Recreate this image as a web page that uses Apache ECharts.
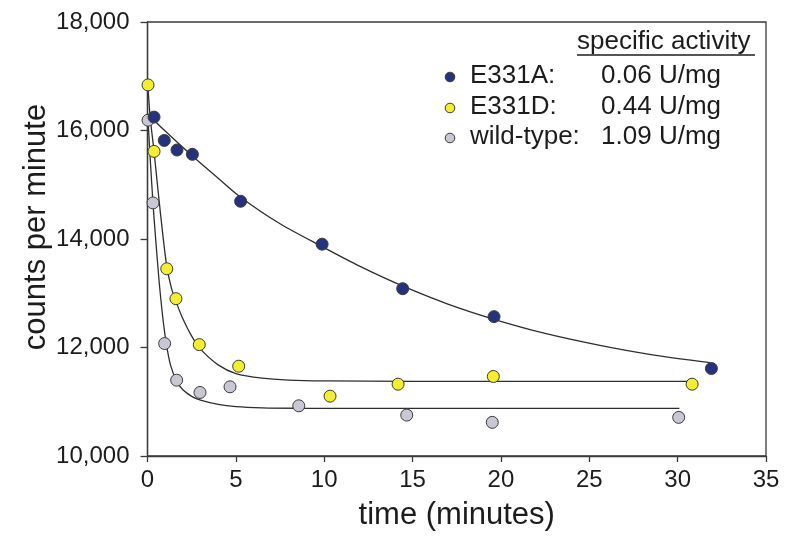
<!DOCTYPE html>
<html>
<head>
<meta charset="utf-8">
<script src="https://cdn.jsdelivr.net/npm/echarts@6/dist/echarts.min.js"></script>
<style>
  html, body { margin: 0; padding: 0; background: #fff; }
  #chart { width: 785px; height: 536px; }
</style>
</head>
<body>
<div id="chart"></div>
<script>
// Measured counts (time in minutes, counts per minute)
const e331aTime   = [0.37, 0.95, 1.67, 2.54, 5.27, 9.88, 14.44, 19.61, 31.91];
const e331aCounts = [16247, 15817, 15640, 15560, 14695, 13905, 13084, 12569, 11612];

const e331dTime   = [0.03, 0.37, 1.09, 1.61, 2.93, 5.16, 10.33, 14.18, 19.57, 30.82];
const e331dCounts = [16840, 15615, 13451, 12900, 12053, 11655, 11103, 11324, 11466, 11324];

const wtTime   = [0.03, 0.31, 0.97, 1.65, 2.97, 4.67, 8.56, 14.67, 19.51, 30.06];
const wtCounts = [16190, 14665, 12073, 11398, 11171, 11275, 10925, 10754, 10620, 10712];

// Fitted decay curves, sampled along each trace
const e331aFitTime   = [0.05, 0.37, 1.0, 2.54, 4.0, 5.27, 7.5, 9.88, 12, 14.46, 17, 19.61, 22.5, 25.6, 28.5, 31.83];
const e331aFitCounts = [16300, 16190, 15990, 15530, 15120, 14770, 14280, 13860, 13500, 13130, 12800, 12520, 12260, 12040, 11870, 11720];

const e331dFitTime   = [0.02, 0.15, 0.37, 0.6, 0.86, 1.09, 1.35, 1.61, 2.0, 2.5, 3.0, 4.0, 5.0, 6.5, 8, 10, 15, 30.8];
const e331dFitCounts = [16840, 16250, 15615, 14880, 14100, 13500, 13100, 12850, 12530, 12210, 11970, 11680, 11520, 11435, 11400, 11385, 11376, 11374];

const wtFitTime   = [0.03, 0.15, 0.31, 0.45, 0.65, 0.85, 1.05, 1.3, 1.65, 2.0, 2.5, 3.0, 4.0, 5.0, 6.5, 8.5, 12, 30.1];
const wtFitCounts = [16190, 15500, 14665, 14050, 13250, 12600, 12100, 11680, 11380, 11220, 11100, 11030, 10950, 10910, 10888, 10880, 10877, 10877];

// Axis ticks
const timeTicks  = [0, 5, 10, 15, 20, 25, 30, 35];
const countTicks = [10000, 12000, 14000, 16000, 18000];

// Legend rows: name, specific activity
const legendNames      = ['E331A:', 'E331D:', 'wild-type:'];
const legendActivities = ['0.06 U/mg', '0.44 U/mg', '1.09 U/mg'];

const pairs = (xs, ys) => xs.map((x, i) => [x, ys[i]]);

const FONT = '"Liberation Sans", Arial, Helvetica, sans-serif';
const TEXT = '#1c1c1c';
const AXIS = '#3a3a3a';
const colors = ['#27327f', '#f3ee2e', '#c7c8d3'];
const markerBorder = '#3b3b3b';

function fitLine(xs, ys) {
  return {
    type: 'line',
    data: pairs(xs, ys),
    smooth: 0.3,
    showSymbol: false,
    silent: true,
    z: 2,
    lineStyle: { color: '#2e2e2e', width: 1.3 }
  };
}
function points(xs, ys, color) {
  return {
    type: 'scatter',
    data: pairs(xs, ys),
    symbol: 'circle',
    symbolSize: 12,
    z: 3,
    itemStyle: { color: color, opacity: 1, borderColor: markerBorder, borderWidth: 1 }
  };
}

const chart = echarts.init(document.getElementById('chart'), null, { renderer: 'canvas' });

const legendGraphics = [];
const rowY = [76, 107, 137];
legendGraphics.push({
  type: 'text', left: 577, top: 29,
  style: { text: 'specific activity', font: '26px ' + FONT, fill: TEXT }
});
legendGraphics.push({
  type: 'line', shape: { x1: 577, y1: 55, x2: 755, y2: 55 },
  style: { stroke: TEXT, lineWidth: 1.3 }
});
legendNames.forEach((name, i) => {
  legendGraphics.push({
    type: 'circle', shape: { cx: 450, cy: rowY[i] + 1, r: 4.8 },
    style: { fill: colors[i], stroke: markerBorder, lineWidth: 1 }
  });
  legendGraphics.push({
    type: 'text', x: 470, y: rowY[i],
    style: { text: name, font: '26px ' + FONT, fill: TEXT, textVerticalAlign: 'middle' }
  });
  legendGraphics.push({
    type: 'text', x: 721, y: rowY[i],
    style: { text: legendActivities[i], font: '26px ' + FONT, fill: TEXT, textAlign: 'right', textVerticalAlign: 'middle' }
  });
});
// y-axis title
legendGraphics.push({
  type: 'text', x: 36, y: 227, rotation: Math.PI / 2,
  style: { text: 'counts per minute', font: '31px ' + FONT, fill: TEXT, textAlign: 'center', textVerticalAlign: 'middle' }
});

chart.setOption({
  animation: false,
  backgroundColor: '#ffffff',
  grid: {
    left: 147.5, right: 19, top: 22, bottom: 79,
    show: true, borderColor: AXIS, borderWidth: 1.3
  },
  xAxis: {
    type: 'value',
    min: timeTicks[0], max: timeTicks[timeTicks.length - 1], interval: 5,
    name: 'time (minutes)',
    nameLocation: 'middle', nameGap: 44,
    nameTextStyle: { fontFamily: FONT, fontSize: 31, color: TEXT },
    axisLine: { show: true, lineStyle: { color: AXIS, width: 1.3 } },
    axisTick: { show: true, inside: false, length: 6, lineStyle: { color: AXIS, width: 1.3 } },
    axisLabel: { fontFamily: FONT, fontSize: 24, color: TEXT, margin: 12 },
    splitLine: { show: false }
  },
  yAxis: {
    type: 'value',
    min: countTicks[0], max: countTicks[countTicks.length - 1], interval: 2000,
    axisLine: { show: true, lineStyle: { color: AXIS, width: 1.3 } },
    axisTick: { show: true, inside: false, length: 7, lineStyle: { color: AXIS, width: 1.3 } },
    axisLabel: {
      fontFamily: FONT, fontSize: 24, color: TEXT, margin: 18,
      formatter: v => v.toLocaleString('en-US')
    },
    splitLine: { show: false }
  },
  graphic: legendGraphics,
  series: [
    fitLine(e331aFitTime, e331aFitCounts),
    fitLine(e331dFitTime, e331dFitCounts),
    fitLine(wtFitTime, wtFitCounts),
    points(wtTime, wtCounts, colors[2]),
    points(e331dTime, e331dCounts, colors[1]),
    points(e331aTime, e331aCounts, colors[0])
  ]
});
</script>
</body>
</html>
